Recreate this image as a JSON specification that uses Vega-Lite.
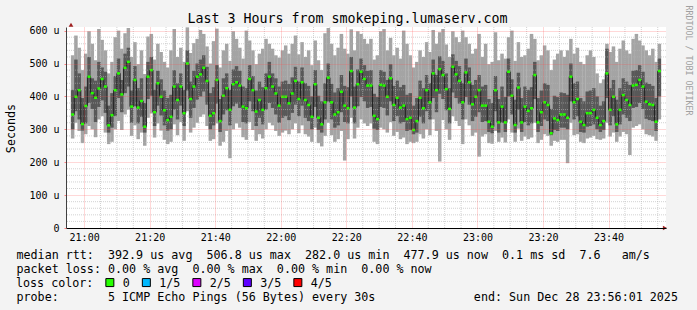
{
  "$schema": "https://vega.github.io/schema/vega-lite/v6.json",
  "width": 600,
  "height": 201,
  "autosize": {"type": "none"},
  "padding": {"left": 66, "top": 27, "right": 31, "bottom": 82},
  "background": "#f3f3f3",
  "config": {
    "view": {"stroke": null, "fill": "#ffffff"},
    "font": "DejaVu Sans Mono",
    "axis": {"labelFont": "DejaVu Sans Mono", "titleFont": "DejaVu Sans Mono", "titleFontWeight": "normal"}
  },
  "title": {
    "text": "Last 3 Hours from smokeping.lumaserv.com",
    "font": "DejaVu Sans Mono", "fontSize": 13.3, "fontWeight": "normal", "color": "#000000",
    "anchor": "middle", "dx": -18.5, "offset": -20.5
  },
  "data": {"values": [
    {"t":56.5,"lo":272,"p2":300,"med":345,"p4":420,"hi":525},
    {"t":57.5,"lo":320,"p2":355,"med":399,"p4":512,"hi":585},
    {"t":58.5,"lo":295,"p2":330,"med":419,"p4":470,"hi":548},
    {"t":59.5,"lo":258,"p2":296,"med":316,"p4":395,"hi":480},
    {"t":60.5,"lo":285,"p2":318,"med":371,"p4":430,"hi":530},
    {"t":61.5,"lo":310,"p2":380,"med":460,"p4":520,"hi":598},
    {"t":62.5,"lo":300,"p2":362,"med":410,"p4":455,"hi":560},
    {"t":63.5,"lo":276,"p2":322,"med":396,"p4":448,"hi":510},
    {"t":64.5,"lo":330,"p2":368,"med":424,"p4":505,"hi":605},
    {"t":65.5,"lo":340,"p2":388,"med":453,"p4":488,"hi":572},
    {"t":66.5,"lo":290,"p2":350,"med":430,"p4":475,"hi":540},
    {"t":67.5,"lo":255,"p2":290,"med":312,"p4":372,"hi":470},
    {"t":68.5,"lo":262,"p2":305,"med":343,"p4":410,"hi":505},
    {"t":69.5,"lo":300,"p2":340,"med":419,"p4":462,"hi":580},
    {"t":70.5,"lo":325,"p2":395,"med":470,"p4":515,"hi":600},
    {"t":71.5,"lo":298,"p2":352,"med":406,"p4":450,"hi":545},
    {"t":72.5,"lo":345,"p2":410,"med":487,"p4":530,"hi":592},
    {"t":73.5,"lo":360,"p2":430,"med":505,"p4":548,"hi":608},
    {"t":74.5,"lo":280,"p2":320,"med":369,"p4":418,"hi":520},
    {"t":75.5,"lo":312,"p2":370,"med":450,"p4":492,"hi":565},
    {"t":76.5,"lo":270,"p2":318,"med":366,"p4":425,"hi":498},
    {"t":77.5,"lo":290,"p2":338,"med":386,"p4":455,"hi":540},
    {"t":78.5,"lo":250,"p2":290,"med":308,"p4":380,"hi":468},
    {"t":79.5,"lo":335,"p2":392,"med":460,"p4":505,"hi":582},
    {"t":80.5,"lo":348,"p2":402,"med":480,"p4":520,"hi":590},
    {"t":81.5,"lo":275,"p2":310,"med":352,"p4":420,"hi":512},
    {"t":82.5,"lo":318,"p2":372,"med":440,"p4":478,"hi":560},
    {"t":83.5,"lo":296,"p2":342,"med":399,"p4":452,"hi":535},
    {"t":84.5,"lo":268,"p2":312,"med":358,"p4":418,"hi":505},
    {"t":85.5,"lo":255,"p2":296,"med":328,"p4":395,"hi":488},
    {"t":86.5,"lo":262,"p2":300,"med":338,"p4":405,"hi":540},
    {"t":87.5,"lo":315,"p2":360,"med":430,"p4":480,"hi":605},
    {"t":88.5,"lo":282,"p2":330,"med":389,"p4":440,"hi":520},
    {"t":89.5,"lo":322,"p2":372,"med":430,"p4":470,"hi":548},
    {"t":90.5,"lo":265,"p2":310,"med":349,"p4":420,"hi":505},
    {"t":91.5,"lo":355,"p2":418,"med":500,"p4":540,"hi":610},
    {"t":92.5,"lo":290,"p2":335,"med":392,"p4":445,"hi":532},
    {"t":93.5,"lo":305,"p2":365,"med":430,"p4":478,"hi":562},
    {"t":94.5,"lo":320,"p2":390,"med":460,"p4":500,"hi":575},
    {"t":95.5,"lo":338,"p2":400,"med":467,"p4":512,"hi":602},
    {"t":96.5,"lo":345,"p2":415,"med":487,"p4":525,"hi":590},
    {"t":97.5,"lo":310,"p2":375,"med":447,"p4":490,"hi":552},
    {"t":98.5,"lo":265,"p2":300,"med":341,"p4":410,"hi":500},
    {"t":99.5,"lo":270,"p2":312,"med":349,"p4":428,"hi":568},
    {"t":100.5,"lo":318,"p2":378,"med":450,"p4":495,"hi":606},
    {"t":101.5,"lo":250,"p2":292,"med":325,"p4":392,"hi":488},
    {"t":102.5,"lo":262,"p2":345,"med":402,"p4":455,"hi":540},
    {"t":103.5,"lo":295,"p2":358,"med":425,"p4":470,"hi":560},
    {"t":104.5,"lo":212,"p2":312,"med":359,"p4":420,"hi":508},
    {"t":105.5,"lo":300,"p2":370,"med":437,"p4":482,"hi":598},
    {"t":106.5,"lo":318,"p2":378,"med":443,"p4":492,"hi":575},
    {"t":107.5,"lo":305,"p2":365,"med":433,"p4":478,"hi":548},
    {"t":108.5,"lo":276,"p2":322,"med":369,"p4":430,"hi":515},
    {"t":109.5,"lo":268,"p2":318,"med":364,"p4":425,"hi":600},
    {"t":110.5,"lo":322,"p2":385,"med":453,"p4":495,"hi":570},
    {"t":111.5,"lo":298,"p2":355,"med":419,"p4":462,"hi":540},
    {"t":112.5,"lo":265,"p2":310,"med":354,"p4":418,"hi":498},
    {"t":113.5,"lo":285,"p2":335,"med":389,"p4":445,"hi":530},
    {"t":114.5,"lo":272,"p2":315,"med":359,"p4":428,"hi":545},
    {"t":115.5,"lo":300,"p2":360,"med":425,"p4":470,"hi":575},
    {"t":116.5,"lo":320,"p2":380,"med":460,"p4":505,"hi":560},
    {"t":117.5,"lo":312,"p2":365,"med":430,"p4":470,"hi":545},
    {"t":118.5,"lo":295,"p2":345,"med":409,"p4":455,"hi":525},
    {"t":119.5,"lo":280,"p2":320,"med":372,"p4":430,"hi":518},
    {"t":120.5,"lo":290,"p2":335,"med":399,"p4":445,"hi":540},
    {"t":121.5,"lo":296,"p2":340,"med":399,"p4":448,"hi":555},
    {"t":122.5,"lo":285,"p2":328,"med":379,"p4":438,"hi":530},
    {"t":123.5,"lo":300,"p2":350,"med":409,"p4":458,"hi":560},
    {"t":124.5,"lo":318,"p2":375,"med":447,"p4":490,"hi":585},
    {"t":125.5,"lo":288,"p2":340,"med":392,"p4":445,"hi":528},
    {"t":126.5,"lo":312,"p2":372,"med":443,"p4":488,"hi":565},
    {"t":127.5,"lo":285,"p2":335,"med":389,"p4":440,"hi":520},
    {"t":128.5,"lo":278,"p2":325,"med":374,"p4":432,"hi":540},
    {"t":129.5,"lo":262,"p2":300,"med":338,"p4":400,"hi":495},
    {"t":130.5,"lo":305,"p2":368,"med":437,"p4":480,"hi":570},
    {"t":131.5,"lo":258,"p2":298,"med":335,"p4":402,"hi":510},
    {"t":132.5,"lo":248,"p2":290,"med":315,"p4":385,"hi":480},
    {"t":133.5,"lo":280,"p2":330,"med":382,"p4":440,"hi":592},
    {"t":134.5,"lo":320,"p2":385,"med":457,"p4":500,"hi":608},
    {"t":135.5,"lo":282,"p2":330,"med":382,"p4":438,"hi":560},
    {"t":136.5,"lo":262,"p2":305,"med":345,"p4":412,"hi":525},
    {"t":137.5,"lo":270,"p2":312,"med":352,"p4":425,"hi":548},
    {"t":138.5,"lo":295,"p2":352,"med":414,"p4":465,"hi":590},
    {"t":139.5,"lo":205,"p2":322,"med":372,"p4":432,"hi":545},
    {"t":140.5,"lo":270,"p2":318,"med":364,"p4":428,"hi":530},
    {"t":141.5,"lo":335,"p2":400,"med":477,"p4":520,"hi":604},
    {"t":142.5,"lo":272,"p2":318,"med":366,"p4":430,"hi":540},
    {"t":143.5,"lo":305,"p2":370,"med":437,"p4":482,"hi":598},
    {"t":144.5,"lo":330,"p2":398,"med":475,"p4":515,"hi":590},
    {"t":145.5,"lo":318,"p2":385,"med":453,"p4":495,"hi":575},
    {"t":146.5,"lo":310,"p2":365,"med":433,"p4":478,"hi":560},
    {"t":147.5,"lo":318,"p2":368,"med":433,"p4":480,"hi":575},
    {"t":148.5,"lo":262,"p2":302,"med":341,"p4":408,"hi":512},
    {"t":149.5,"lo":255,"p2":298,"med":331,"p4":398,"hi":525},
    {"t":150.5,"lo":305,"p2":368,"med":435,"p4":480,"hi":598},
    {"t":151.5,"lo":300,"p2":365,"med":433,"p4":475,"hi":605},
    {"t":152.5,"lo":290,"p2":342,"med":399,"p4":450,"hi":540},
    {"t":153.5,"lo":322,"p2":385,"med":455,"p4":498,"hi":578},
    {"t":154.5,"lo":280,"p2":325,"med":374,"p4":432,"hi":525},
    {"t":155.5,"lo":292,"p2":340,"med":396,"p4":448,"hi":548},
    {"t":156.5,"lo":270,"p2":318,"med":366,"p4":428,"hi":515},
    {"t":157.5,"lo":275,"p2":322,"med":372,"p4":435,"hi":600},
    {"t":158.5,"lo":255,"p2":295,"med":331,"p4":405,"hi":560},
    {"t":159.5,"lo":262,"p2":298,"med":335,"p4":410,"hi":525},
    {"t":160.5,"lo":258,"p2":285,"med":298,"p4":372,"hi":488},
    {"t":161.5,"lo":262,"p2":290,"med":325,"p4":395,"hi":505},
    {"t":162.5,"lo":285,"p2":338,"med":396,"p4":448,"hi":540},
    {"t":163.5,"lo":272,"p2":318,"med":364,"p4":425,"hi":520},
    {"t":164.5,"lo":300,"p2":355,"med":419,"p4":465,"hi":565},
    {"t":165.5,"lo":282,"p2":330,"med":382,"p4":440,"hi":535},
    {"t":166.5,"lo":330,"p2":395,"med":470,"p4":512,"hi":602},
    {"t":167.5,"lo":295,"p2":352,"med":419,"p4":465,"hi":560},
    {"t":168.5,"lo":202,"p2":408,"med":483,"p4":522,"hi":595},
    {"t":169.5,"lo":328,"p2":392,"med":465,"p4":508,"hi":605},
    {"t":170.5,"lo":300,"p2":358,"med":422,"p4":470,"hi":558},
    {"t":171.5,"lo":268,"p2":318,"med":362,"p4":425,"hi":520},
    {"t":172.5,"lo":340,"p2":412,"med":490,"p4":528,"hi":598},
    {"t":173.5,"lo":325,"p2":395,"med":467,"p4":508,"hi":580},
    {"t":174.5,"lo":310,"p2":378,"med":447,"p4":492,"hi":565},
    {"t":175.5,"lo":255,"p2":330,"med":382,"p4":440,"hi":600},
    {"t":176.5,"lo":330,"p2":398,"med":473,"p4":515,"hi":580},
    {"t":177.5,"lo":312,"p2":375,"med":443,"p4":488,"hi":560},
    {"t":178.5,"lo":280,"p2":325,"med":376,"p4":435,"hi":530},
    {"t":179.5,"lo":290,"p2":338,"med":399,"p4":450,"hi":545},
    {"t":180.5,"lo":217,"p2":352,"med":419,"p4":465,"hi":590},
    {"t":181.5,"lo":278,"p2":322,"med":372,"p4":430,"hi":520},
    {"t":182.5,"lo":285,"p2":325,"med":372,"p4":435,"hi":560},
    {"t":183.5,"lo":258,"p2":292,"med":323,"p4":392,"hi":498},
    {"t":184.5,"lo":256,"p2":288,"med":308,"p4":380,"hi":505},
    {"t":185.5,"lo":295,"p2":355,"med":419,"p4":462,"hi":595},
    {"t":186.5,"lo":262,"p2":290,"med":321,"p4":392,"hi":510},
    {"t":187.5,"lo":275,"p2":320,"med":369,"p4":430,"hi":530},
    {"t":188.5,"lo":260,"p2":292,"med":321,"p4":398,"hi":515},
    {"t":189.5,"lo":330,"p2":400,"med":475,"p4":515,"hi":580},
    {"t":190.5,"lo":290,"p2":345,"med":402,"p4":452,"hi":600},
    {"t":191.5,"lo":262,"p2":290,"med":313,"p4":390,"hi":508},
    {"t":192.5,"lo":302,"p2":360,"med":427,"p4":472,"hi":565},
    {"t":193.5,"lo":265,"p2":292,"med":321,"p4":395,"hi":520},
    {"t":194.5,"lo":278,"p2":322,"med":369,"p4":430,"hi":525},
    {"t":195.5,"lo":270,"p2":312,"med":356,"p4":420,"hi":545},
    {"t":196.5,"lo":275,"p2":318,"med":364,"p4":428,"hi":590},
    {"t":197.5,"lo":320,"p2":392,"med":465,"p4":505,"hi":575},
    {"t":198.5,"lo":258,"p2":292,"med":321,"p4":395,"hi":510},
    {"t":199.5,"lo":268,"p2":310,"med":352,"p4":418,"hi":525},
    {"t":200.5,"lo":285,"p2":330,"med":382,"p4":440,"hi":555},
    {"t":201.5,"lo":280,"p2":325,"med":374,"p4":435,"hi":540},
    {"t":202.5,"lo":250,"p2":282,"med":288,"p4":362,"hi":480},
    {"t":203.5,"lo":265,"p2":298,"med":333,"p4":402,"hi":512},
    {"t":204.5,"lo":262,"p2":295,"med":328,"p4":398,"hi":530},
    {"t":205.5,"lo":268,"p2":305,"med":345,"p4":412,"hi":540},
    {"t":206.5,"lo":268,"p2":305,"med":345,"p4":410,"hi":520},
    {"t":207.5,"lo":197,"p2":300,"med":335,"p4":405,"hi":540},
    {"t":208.5,"lo":320,"p2":385,"med":460,"p4":500,"hi":575},
    {"t":209.5,"lo":282,"p2":330,"med":382,"p4":440,"hi":530},
    {"t":210.5,"lo":285,"p2":340,"med":392,"p4":445,"hi":548},
    {"t":211.5,"lo":262,"p2":292,"med":323,"p4":395,"hi":505},
    {"t":212.5,"lo":258,"p2":290,"med":313,"p4":385,"hi":498},
    {"t":213.5,"lo":272,"p2":308,"med":349,"p4":415,"hi":525},
    {"t":214.5,"lo":275,"p2":310,"med":349,"p4":418,"hi":540},
    {"t":215.5,"lo":280,"p2":315,"med":359,"p4":425,"hi":520},
    {"t":216.5,"lo":270,"p2":300,"med":335,"p4":400,"hi":470},
    {"t":217.5,"lo":268,"p2":292,"med":313,"p4":372,"hi":440},
    {"t":218.5,"lo":272,"p2":298,"med":325,"p4":385,"hi":452},
    {"t":219.5,"lo":320,"p2":395,"med":470,"p4":545,"hi":560},
    {"t":220.5,"lo":278,"p2":312,"med":359,"p4":425,"hi":535},
    {"t":221.5,"lo":290,"p2":340,"med":399,"p4":450,"hi":552},
    {"t":222.5,"lo":262,"p2":292,"med":315,"p4":390,"hi":505},
    {"t":223.5,"lo":278,"p2":315,"med":359,"p4":425,"hi":545},
    {"t":224.5,"lo":292,"p2":345,"med":404,"p4":455,"hi":570},
    {"t":225.5,"lo":285,"p2":335,"med":389,"p4":445,"hi":540},
    {"t":226.5,"lo":222,"p2":325,"med":374,"p4":435,"hi":530},
    {"t":227.5,"lo":305,"p2":365,"med":433,"p4":478,"hi":575},
    {"t":228.5,"lo":310,"p2":368,"med":435,"p4":480,"hi":590},
    {"t":229.5,"lo":315,"p2":380,"med":450,"p4":495,"hi":570},
    {"t":230.5,"lo":300,"p2":362,"med":430,"p4":475,"hi":555},
    {"t":231.5,"lo":285,"p2":332,"med":384,"p4":442,"hi":540},
    {"t":232.5,"lo":282,"p2":328,"med":376,"p4":438,"hi":525},
    {"t":233.5,"lo":278,"p2":325,"med":374,"p4":432,"hi":545},
    {"t":234.5,"lo":265,"p2":295,"med":323,"p4":395,"hi":505},
    {"t":235.5,"lo":330,"p2":400,"med":477,"p4":515,"hi":560}
  ]},
  "resolve": {"axis": {"y": "independent"}},
  "layer": [
    {
      "mark": {"type": "bar", "width": 3.5, "color": "#a4a4a4"},
      "encoding": {
        "x": {
          "field": "t", "type": "quantitative",
          "scale": {"domain": [56, 236], "nice": false, "zero": false},
          "axis": {
            "values": [60, 80, 100, 120, 140, 160, 180, 200, 220],
            "labelExpr": "(floor(datum.value/60)+20) + ':' + (datum.value%60 < 10 ? '0' : '') + (datum.value%60)",
            "grid": true, "gridColor": "#ff5050", "gridOpacity": 0.45, "gridDash": [1, 1],
            "ticks": false, "labelPadding": 4, "labelFontSize": 10, "labelColor": "#000000",
            "labelFlush": false, "labelOverlap": false,
            "domainColor": "#000000", "domainWidth": 1, "zindex": 1,
            "title": [
              "median rtt:\u00a0\u00a0392.9 us avg\u00a0\u00a0506.8 us max\u00a0\u00a0282.0 us min\u00a0\u00a0477.9 us now\u00a0\u00a00.1 ms sd\u00a0\u00a07.6\u00a0\u00a0\u00a0am/s",
              "packet loss: 0.00 % avg\u00a0\u00a00.00 % max\u00a0\u00a00.00 % min\u00a0\u00a00.00 % now",
              "\u200b",
              "probe:\u00a0\u00a0\u00a0\u00a0\u00a0\u00a0\u00a05 ICMP Echo Pings (56 Bytes) every 30s\u00a0\u00a0\u00a0\u00a0\u00a0\u00a0\u00a0\u00a0\u00a0\u00a0\u00a0\u00a0\u00a0\u00a0end: Sun Dec 28 23:56:01 2025"
            ],
            "titleX": -50, "titleY": 30, "titleAlign": "left", "titleAnchor": "start",
            "titleBaseline": "alphabetic", "titleFontSize": 11.7, "titleColor": "#000000",
            "titleLineHeight": 14.2
          }
        },
        "y": {
          "field": "lo", "type": "quantitative",
          "scale": {"domain": [0, 611], "nice": false, "zero": true},
          "axis": {
            "orient": "left",
            "values": [0, 100, 200, 300, 400, 500, 600],
            "labelExpr": "datum.value == 0 ? '0' : datum.value + ' u'",
            "grid": true, "gridColor": "#ff5050", "gridOpacity": 0.45, "gridDash": [1, 1],
            "tickSize": 2, "tickColor": "#ff8080", "labelPadding": 5,
            "labelFontSize": 10, "labelColor": "#000000",
            "domainColor": "#404040", "domainWidth": 1, "zindex": 1,
            "title": "Seconds", "titleX": -56, "titleY": 101, "titleAngle": 270,
            "titleAlign": "center", "titleBaseline": "middle",
            "titleFontSize": 11.7, "titleColor": "#000000"
          }
        },
        "y2": {"field": "hi"}
      }
    },
    {
      "mark": {"type": "bar", "width": 3.5, "color": "#585858"},
      "encoding": {
        "x": {"field": "t", "type": "quantitative", "scale": {"domain": [56, 236], "nice": false, "zero": false}},
        "y": {"field": "p2", "type": "quantitative", "scale": {"domain": [0, 611], "nice": false, "zero": true}, "axis": null},
        "y2": {"field": "p4"}
      }
    },
    {
      "data": {"values": [
        {"v":65},{"v":70},{"v":75},{"v":85},{"v":90},{"v":95},{"v":105},{"v":110},{"v":115},
        {"v":125},{"v":130},{"v":135},{"v":145},{"v":150},{"v":155},{"v":165},{"v":170},{"v":175},
        {"v":185},{"v":190},{"v":195},{"v":205},{"v":210},{"v":215},{"v":225},{"v":230},{"v":235}
      ]},
      "mark": {"type": "rule", "color": "#b4b4b4", "strokeDash": [1, 1], "opacity": 0.6},
      "encoding": {
        "x": {"field": "v", "type": "quantitative", "scale": {"domain": [56, 236], "nice": false, "zero": false}}
      }
    },
    {
      "data": {"values": [
        {"v":20},{"v":40},{"v":60},{"v":80},{"v":120},{"v":140},{"v":160},{"v":180},
        {"v":220},{"v":240},{"v":260},{"v":280},{"v":320},{"v":340},{"v":360},{"v":380},
        {"v":420},{"v":440},{"v":460},{"v":480},{"v":520},{"v":540},{"v":560},{"v":580}
      ]},
      "mark": {"type": "rule", "color": "#b4b4b4", "strokeDash": [1, 1], "opacity": 0.6},
      "encoding": {
        "y": {"field": "v", "type": "quantitative", "scale": {"domain": [0, 611], "nice": false, "zero": true}, "axis": null}
      }
    },
    {
      "mark": {"type": "line", "interpolate": "step", "color": "#202020", "strokeWidth": 1},
      "encoding": {
        "x": {"field": "t", "type": "quantitative", "scale": {"domain": [56, 236], "nice": false, "zero": false}},
        "y": {"field": "med", "type": "quantitative", "scale": {"domain": [0, 611], "nice": false, "zero": true}, "axis": null}
      }
    },
    {
      "mark": {"type": "tick", "orient": "horizontal", "size": 3, "thickness": 2.5, "opacity": 1},
      "encoding": {
        "x": {"field": "t", "type": "quantitative", "scale": {"domain": [56, 236], "nice": false, "zero": false}},
        "y": {
          "field": "med", "type": "quantitative",
          "scale": {"domain": [0, 611], "nice": false, "zero": true},
          "axis": {
            "orient": "right", "title": "RRDTOOL / TOBI OETIKER",
            "labels": false, "ticks": false, "domain": false, "grid": false,
            "titleAngle": 90, "titleX": 21, "titleY": -22, "titleAlign": "left", "titleBaseline": "middle",
            "titleFontSize": 8.3, "titleColor": "#a0a0a0"
          }
        },
        "color": {
          "datum": "0", "type": "nominal",
          "scale": {"domain": ["0", "1/5", "2/5", "3/5", "4/5"], "range": ["#26ff00", "#00b8ff", "#dd00ff", "#5e00ff", "#ff0000"]},
          "legend": {
            "orient": "none", "legendX": -50, "legendY": 249.5, "direction": "horizontal",
            "title": "loss color:", "titleOrient": "left", "titleFont": "DejaVu Sans Mono",
            "titleFontSize": 11.7, "titleFontWeight": "normal", "titleColor": "#000000", "titlePadding": 10,
            "titleBaseline": "middle",
            "labelFont": "DejaVu Sans Mono", "labelFontSize": 11.7, "labelColor": "#000000", "labelOffset": 7,
            "columnPadding": 9.5, "symbolType": "square", "symbolSize": 64,
            "symbolStrokeColor": "#000000", "symbolStrokeWidth": 1, "symbolOpacity": 1, "padding": 0
          }
        }
      }
    },
    {
      "data": {"values": [{}]},
      "mark": {"type": "point", "shape": "triangle-right", "filled": true, "color": "#a02020", "size": 22, "opacity": 1},
      "encoding": {
        "x": {"datum": 237.2, "type": "quantitative", "scale": {"domain": [56, 236], "nice": false, "zero": false}},
        "y": {"datum": 0, "type": "quantitative", "scale": {"domain": [0, 611], "nice": false, "zero": true}, "axis": null}
      }
    },
    {
      "data": {"values": [{}]},
      "mark": {"type": "point", "shape": "triangle-up", "filled": true, "color": "#a02020", "size": 22, "opacity": 1},
      "encoding": {
        "x": {"datum": 56, "type": "quantitative", "scale": {"domain": [56, 236], "nice": false, "zero": false}},
        "y": {"datum": 618, "type": "quantitative", "scale": {"domain": [0, 611], "nice": false, "zero": true}, "axis": null}
      }
    }
  ]
}
